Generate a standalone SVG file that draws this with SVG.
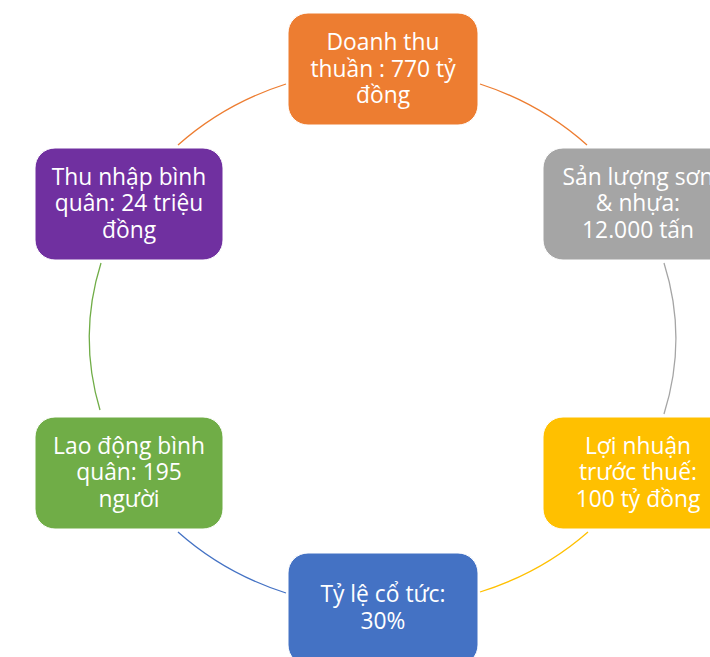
<svg xmlns="http://www.w3.org/2000/svg" width="710" height="657" viewBox="0 0 710 657">
<style>
.n{stroke:#fff;stroke-width:1}
.t{font-family:"Open Sans","Liberation Sans",sans-serif;font-size:22.8px;fill:#fff;text-anchor:middle}
.c{fill:none;stroke-width:1.3}
</style>
<rect width="710" height="657" fill="#fff"/>
<g id="connectors">
<path class="c" stroke="#ED7D31" d="M480,84 A293,270 0 0 1 587,145"/>
<path class="c" stroke="#A5A5A5" d="M664,263 A293,270 0 0 1 664,414"/>
<path class="c" stroke="#FFC000" d="M588,532 A293,270 0 0 1 480,592"/>
<path class="c" stroke="#4472C4" d="M286,593 A293,270 0 0 1 178,532"/>
<path class="c" stroke="#70AD47" d="M100,410 A293,270 0 0 1 101,263"/>
<path class="c" stroke="#ED7D31" d="M178,145 A293,270 0 0 1 286,84"/>
</g>
<g id="n1">
<rect class="n" x="288" y="13" width="190" height="112" rx="20" fill="#ED7D31"/>
<text class="t" x="383"><tspan x="383" y="50">Doanh thu</tspan><tspan x="383" y="76.5">thuần : 770 tỷ</tspan><tspan x="383" y="103">đồng</tspan></text>
</g>
<g id="n2">
<rect class="n" x="543" y="148" width="190" height="112" rx="20" fill="#A5A5A5"/>
<text class="t" x="638"><tspan x="638" y="184.5">Sản lượng sơn</tspan><tspan x="638" y="211">&amp; nhựa:</tspan><tspan x="638" y="237.5">12.000 tấn</tspan></text>
</g>
<g id="n3">
<rect class="n" x="543" y="417" width="190" height="112" rx="20" fill="#FFC000"/>
<text class="t" x="638"><tspan x="638" y="453.5">Lợi nhuận</tspan><tspan x="638" y="480">trước thuế:</tspan><tspan x="638" y="506.5">100 tỷ đồng</tspan></text>
</g>
<g id="n4">
<rect class="n" x="288" y="553" width="190" height="112" rx="20" fill="#4472C4"/>
<text class="t" x="383"><tspan x="383" y="602">Tỷ lệ cổ tức:</tspan><tspan x="383" y="628.5">30%</tspan></text>
</g>
<g id="n5">
<rect class="n" x="35" y="417" width="188" height="112" rx="20" fill="#70AD47"/>
<text class="t" x="129"><tspan x="129" y="453.5">Lao động bình</tspan><tspan x="129" y="480">quân: 195</tspan><tspan x="129" y="506.5">người</tspan></text>
</g>
<g id="n6">
<rect class="n" x="35" y="148" width="188" height="112" rx="20" fill="#7030A0"/>
<text class="t" x="129"><tspan x="129" y="184.5">Thu nhập bình</tspan><tspan x="129" y="211">quân: 24 triệu</tspan><tspan x="129" y="237.5">đồng</tspan></text>
</g>
</svg>
